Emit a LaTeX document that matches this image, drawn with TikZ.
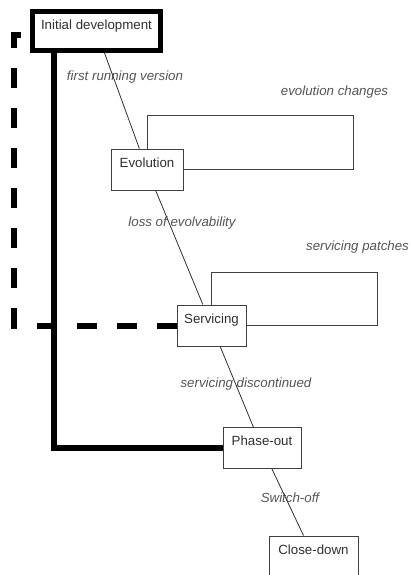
\documentclass[tikz,border=0pt]{standalone}
\usepackage{fontspec}
\setmainfont{Liberation Sans}
\definecolor{boxline}{HTML}{404040}
\definecolor{boxtext}{HTML}{303030}
\definecolor{tagtext}{HTML}{555555}
\definecolor{flowline}{HTML}{303030}
\begin{document}
\begin{tikzpicture}[x=1pt,y=-1pt,
  stage/.style={draw=boxline, fill=white, line width=0.9pt, inner xsep=2pt, inner ysep=0pt,
    text height=18pt, text depth=23pt, text=boxtext, font=\fontsize{13.3}{16}\selectfont},
  tag/.style={text=tagtext, inner sep=0pt, font=\fontsize{13.3}{16}\selectfont\itshape},
  loopline/.style={draw=boxline, line width=0.9pt},
  flow/.style={draw=flowline, line width=0.8pt},
  rail/.style={line width=6pt},
  legacy/.style={line width=6pt, dash pattern=on 20pt off 20pt}]
\clip (0,0) rectangle (411,575);
\node[stage, draw=black, line width=4.5pt, minimum width=128pt, text height=18.5pt, text depth=20.5pt] (init) at (96.5,31) {Initial development};
\node[stage, minimum width=72pt] (evo) at (147,169.5) {Evolution};
\node[stage, minimum width=69pt] (serv) at (211.5,325.5) {Servicing};
\node[stage, minimum width=78pt] (phase) at (262,448) {Phase-out};
\node[stage, minimum width=89pt] (close) at (313.5,556.5) {Close-down};
\node[tag] (firstrun) at (125,77) {first running version};
\node[tag] (evochg) at (334.5,92) {evolution changes};
\node[tag] (lossevo) at (182,223) {loss of evolvability};
\node[tag] (servpat) at (357.5,247) {servicing patches};
\node[tag] (servdis) at (246,384) {servicing discontinued};
\node[tag] (switch) at (290,498) {Switch-off};
\draw[flow] (init) -- (evo) -- (serv) -- (phase) -- (close);
\draw[loopline] (evo.north) |- (353,115) |- (evo.east);
\draw[loopline] (serv.north) |- (377,272) |- (serv.east);
\coordinate (legacytop) at (14,35);
\draw[legacy] (serv.west) -| (legacytop) -- (legacytop -| init.west);
\coordinate (railtop) at (53.5,0);
\draw[rail] (init.south -| railtop) |- (phase.west);
\end{tikzpicture}
\end{document}
